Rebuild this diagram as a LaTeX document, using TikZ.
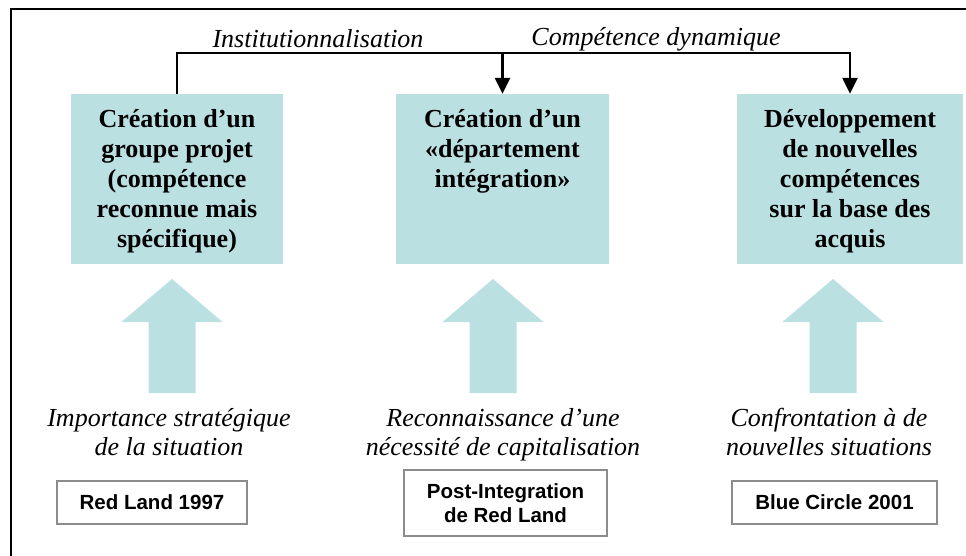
\documentclass[tikz,border=0pt]{standalone}
\usepackage{fontspec}
\setmainfont{Liberation Serif}
\setsansfont{Liberation Sans}
\usetikzlibrary{arrows.meta,positioning}
\definecolor{tealfill}{RGB}{186,224,226}
\definecolor{framegray}{RGB}{140,140,140}
\tikzset{
  stagebox/.style={fill=tealfill,minimum height=170pt,inner sep=0pt},
  stagetext/.style={text width=205pt,align=flush center,inner sep=0pt,font=\bfseries\fontsize{26}{30}\selectfont},
  itlabel/.style={align=center,inner sep=0pt,font=\itshape\fontsize{26}{29}\selectfont},
  casebox/.style={draw=framegray,line width=2pt,align=center,inner sep=0pt,font=\sffamily\bfseries\fontsize{20.5}{24}\selectfont},
  flowtip/.style={-{Triangle[length=16pt,width=15pt]}}
}

\begin{document}
\begin{tikzpicture}[x=1pt,y=-1pt]
      \useasboundingbox (0,0) rectangle (966,556);
      \draw[line width=2.5pt] (11,560) -- (11,9) -- (970,9);
      \node[stagebox,minimum width=212pt] (crea1) at (177,179) {};
      \node[stagebox,minimum width=213pt] (crea2) at (502.5,179) {};
      \node[stagebox,minimum width=226pt] (crea3) at (850,179) {};
      \node[stagetext,below=15pt of crea1.north] (crea1txt) {Création d’un\\groupe projet\\(compétence\\reconnue mais\\spécifique)};
      \node[stagetext,below=15pt of crea2.north] (crea2txt) {Création d’un\\«département\\intégration»};
      \node[stagetext,below=15pt of crea3.north] (crea3txt) {Développement\\de nouvelles\\compétences\\sur la base des\\acquis};
      \coordinate (split) at (502.5,53);
      \draw[line width=1.3pt] (crea1.north) |- (split);
      \draw[line width=2.5pt,flowtip] (split) -- (crea2.north);
      \draw[line width=2.5pt,flowtip] (split) -| (crea3.north);
      \node[itlabel,anchor=base] (inst) at (318,48) {Institutionnalisation};
      \node[itlabel,anchor=base] (dyna) at (656,46) {Compétence dynamique};
      \foreach \x in {172,493,833}
        \fill[tealfill] (\x-23.5,393) -- (\x-23.5,322) -- (\x-50.5,322) -- (\x,279)
          -- (\x+50.5,322) -- (\x+23.5,322) -- (\x+23.5,393) -- cycle;
      \node[itlabel,anchor=north] (cause1) at (169,408) {Importance stratégique\\de la situation};
      \node[itlabel,anchor=north] (cause2) at (503,408) {Reconnaissance d’une\\nécessité de capitalisation};
      \node[itlabel,anchor=north] (cause3) at (829,408) {Confrontation à de\\nouvelles situations};
      \node[casebox,minimum width=190pt,minimum height=43pt] (redland) at (152,502.5) {Red Land 1997};
      \node[casebox,minimum width=203pt,minimum height=66pt] (postint) at (505.5,503) {Post-Integration\\de Red Land};
      \node[casebox,minimum width=205pt,minimum height=43pt] (bluecircle) at (834.5,502.5) {Blue Circle 2001};
\end{tikzpicture}
\end{document}
